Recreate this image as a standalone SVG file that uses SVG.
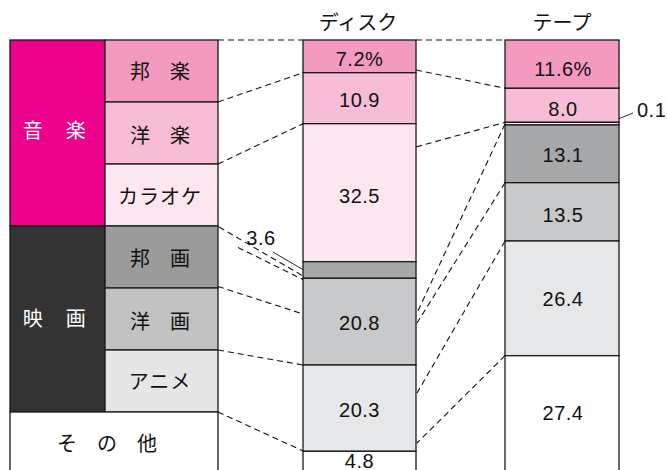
<svg xmlns="http://www.w3.org/2000/svg" width="667" height="470" viewBox="0 0 667 470">
<style>
.b{stroke:#1a1a1a;stroke-width:1.3}
.jp{font-family:"Noto Sans CJK JP","Liberation Sans",sans-serif;font-size:20px;fill:#111;text-anchor:middle}
.w{fill:#fff}
.n{font-family:"Liberation Sans","Noto Sans CJK JP",sans-serif;font-size:20px;fill:#111;text-anchor:middle;letter-spacing:0.5px}
.d{fill:none;stroke:#111;stroke-width:1.1;stroke-dasharray:6 4}
.s{fill:none;stroke:#111;stroke-width:0.9}
</style>
<rect width="667" height="470" fill="#fff"/>
<g id="connectors">
<line class="d" x1="218" y1="40" x2="303" y2="40"/>
<line class="d" x1="416" y1="40" x2="505" y2="40"/>
<line class="d" x1="218" y1="102" x2="303" y2="72.7"/>
<line class="d" x1="218" y1="164" x2="303" y2="123.7"/>
<line class="d" x1="219" y1="227" x2="303" y2="276"/>
<line class="d" x1="238" y1="247.5" x2="303" y2="279.5"/>
<line class="d" x1="218" y1="286.5" x2="303" y2="314"/>
<line class="d" x1="218" y1="350" x2="303" y2="365"/>
<line class="d" x1="218" y1="412" x2="303" y2="451"/>
<line class="d" x1="416" y1="70" x2="505" y2="88.3"/>
<line class="d" x1="416" y1="147" x2="505" y2="122.3"/>
<line class="d" x1="505" y1="124" x2="417" y2="313"/>
<line class="d" x1="505" y1="182.7" x2="417" y2="323"/>
<line class="d" x1="505" y1="241" x2="417" y2="393"/>
<line class="d" x1="505" y1="355.7" x2="417" y2="443"/>
<line class="s" x1="273" y1="252" x2="307" y2="272"/>
<line class="s" x1="607" y1="123.5" x2="633" y2="113"/>
</g>
<g id="music">
<rect class="b" x="10" y="40" width="95" height="186" fill="#EC008C"/>
<text class="jp w" x="55" y="137.6" style="letter-spacing:1.5px">音　楽</text>
</g>
<g id="hogaku">
<rect class="b" x="105" y="40" width="113" height="62" fill="#F49AC1"/>
<text class="jp" x="160" y="79">邦　楽</text>
</g>
<g id="yogaku">
<rect class="b" x="105" y="102" width="113" height="62" fill="#F7BDD6"/>
<text class="jp" x="160" y="142.6">洋　楽</text>
</g>
<g id="karaoke">
<rect class="b" x="105" y="164" width="113" height="62" fill="#FCE7F0"/>
<text class="jp" x="160" y="204" style="letter-spacing:1px">カラオケ</text>
</g>
<g id="movie">
<rect class="b" x="10" y="226" width="95" height="186" fill="#333333"/>
<text class="jp w" x="55" y="325.5" style="letter-spacing:1.5px">映　画</text>
</g>
<g id="hoga">
<rect class="b" x="105" y="226" width="113" height="62" fill="#9B9B9B"/>
<text class="jp" x="160" y="266">邦　画</text>
</g>
<g id="yoga">
<rect class="b" x="105" y="288" width="113" height="62" fill="#C2C2C2"/>
<text class="jp" x="160" y="328.5">洋　画</text>
</g>
<g id="anime">
<rect class="b" x="105" y="350" width="113" height="62" fill="#E6E6E6"/>
<text class="jp" x="160" y="389" style="letter-spacing:1px">アニメ</text>
</g>
<g id="other">
<rect class="b" x="10" y="412" width="208" height="62" fill="#FFFFFF"/>
<text class="jp" x="107" y="451">そ　の　他</text>
</g>
<g id="disc">
<text class="jp" x="358" y="30">ディスク</text>
<rect class="b" x="303" y="40" width="113" height="32.7" fill="#F49AC1"/>
<rect class="b" x="303" y="72.7" width="113" height="51" fill="#F7BDD6"/>
<rect class="b" x="303" y="123.7" width="113" height="138" fill="#FCE7F0"/>
<rect class="b" x="303" y="261.7" width="113" height="16.6" fill="#A7A8AA"/>
<rect class="b" x="303" y="278.3" width="113" height="86.7" fill="#C8C9CA"/>
<rect class="b" x="303" y="365" width="113" height="86.3" fill="#E6E7E8"/>
<rect class="b" x="303" y="451.3" width="113" height="25" fill="#FFFFFF"/>
<text class="n" x="359.5" y="65.7">7.2%</text>
<text class="n" x="359.5" y="107.2">10.9</text>
<text class="n" x="359.5" y="202.7">32.5</text>
<text class="n" x="261" y="245.2">3.6</text>
<text class="n" x="359.5" y="329.7">20.8</text>
<text class="n" x="359.5" y="417.2">20.3</text>
<text class="n" x="359.5" y="468">4.8</text>
</g>
<g id="tape">
<text class="jp" x="562" y="30">テープ</text>
<rect class="b" x="505" y="40" width="114" height="48.3" fill="#F49AC1"/>
<rect class="b" x="505" y="88.3" width="114" height="34" fill="#F7BDD6"/>
<rect class="b" x="505" y="122.3" width="114" height="2.7" fill="#FCE7F0"/>
<rect class="b" x="505" y="125" width="114" height="57.7" fill="#A7A8AA"/>
<rect class="b" x="505" y="182.7" width="114" height="58.3" fill="#C8C9CA"/>
<rect class="b" x="505" y="241" width="114" height="114.7" fill="#E6E7E8"/>
<rect class="b" x="505" y="355.7" width="114" height="120" fill="#FFFFFF"/>
<text class="n" x="563" y="75.7">11.6%</text>
<text class="n" x="563" y="115.7">8.0</text>
<text class="n" x="563" y="162.2">13.1</text>
<text class="n" x="563" y="221.7">13.5</text>
<text class="n" x="563" y="306.2">26.4</text>
<text class="n" x="563" y="420.2">27.4</text>
<text class="n" x="637" y="117.2" style="text-anchor:start">0.1</text>
</g>
</svg>
